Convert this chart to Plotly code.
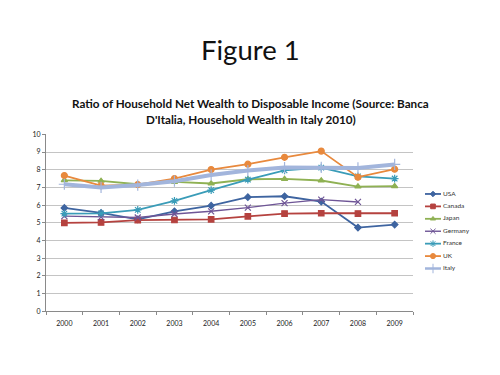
import plotly.graph_objects as go

years = [2000, 2001, 2002, 2003, 2004, 2005, 2006, 2007, 2008, 2009]
usa = [5.84, 5.56, 5.2, 5.65, 5.97, 6.45, 6.5, 6.2, 4.73, 4.9]
canada = [5.0, 5.02, 5.15, 5.16, 5.2, 5.37, 5.52, 5.54, 5.52, 5.54]
japan = [7.4, 7.37, 7.18, 7.31, 7.22, 7.46, 7.48, 7.39, 7.05, 7.07]
germany = [5.38, 5.32, 5.3, 5.5, 5.65, 5.86, 6.11, 6.31, 6.18, None]
france = [5.52, 5.53, 5.73, 6.24, 6.85, 7.44, 7.96, 8.12, 7.62, 7.5]
uk = [7.67, 7.1, 7.16, 7.5, 8.01, 8.31, 8.7, 9.05, 7.58, 8.03]
italy = [7.18, 7.0, 7.13, 7.35, 7.7, 7.95, 8.12, 8.13, 8.1, 8.3]
ytick_vals = [0, 1, 2, 3, 4, 5, 6, 7, 8, 9, 10]
names = ["USA", "Canada", "Japan", "Germany", "France", "UK", "Italy"]
title_lines = ["Ratio of Household Net Wealth to Disposable Income (Source: Banca",
               "D'Italia, Household Wealth in Italy 2010)"]

styles = {
    "USA": ("#3E64A0", "diamond", 1.8, 5),
    "Canada": ("#B5423F", "square", 1.8, 5.5),
    "Japan": ("#8FB153", "triangle-up", 1.8, 5.5),
    "Germany": ("#6E5596", "x-thin", 1.4, 6),
    "France": ("#3A9CB8", "asterisk", 1.8, 6.5),
    "UK": ("#E8893D", "circle", 1.8, 6),
    "Italy": ("#A2B5DC", "cross-thin", 4, 8),
}
values = dict(zip(names, [usa, canada, japan, germany, france, uk, italy]))

OFF = 8  # default page body margin
W, H = 500 - OFF, 375 - OFF
# plot area in page pixels
PL, PR, PT, PB = 46, 413, 132, 313


def fx(px):
    return px - OFF


def fy(py):
    return py - OFF


fig = go.Figure()
for name in names:
    color, sym, w, ms = styles[name]
    fig.add_trace(go.Scatter(
        x=years, y=values[name], name=name, mode="lines+markers",
        line=dict(color=color, width=w),
        marker=dict(symbol=sym, size=ms, color=color,
                    line=dict(color=color, width=1.2)),
        connectgaps=False, showlegend=False,
    ))

# compact legend drawn on a hidden overlay axis measured in pixels
LEG_X0, LEG_X1, LEG_TXT, LEG_Y0, LEG_DY = 425, 441, 443, 193, 12.7
for i, name in enumerate(names):
    color, sym, w, ms = styles[name]
    yy = fy(LEG_Y0 + i * LEG_DY)
    fig.add_trace(go.Scatter(
        x=[fx(LEG_X0), fx(LEG_X1)], y=[yy, yy],
        mode="lines", line=dict(color=color, width=min(w, 2.5)),
        xaxis="x2", yaxis="y2", showlegend=False, hoverinfo="skip",
    ))
    fig.add_trace(go.Scatter(
        x=[fx((LEG_X0 + LEG_X1) / 2)], y=[yy], mode="markers",
        marker=dict(symbol=sym, size=ms * 0.85, color=color, line=dict(color=color, width=1)),
        xaxis="x2", yaxis="y2", showlegend=False, hoverinfo="skip",
    ))
    fig.add_trace(go.Scatter(
        x=[fx(LEG_TXT)], y=[yy], mode="text", text=[name], textposition="middle right",
        textfont=dict(size=6.5, color="#333"),
        xaxis="x2", yaxis="y2", showlegend=False, hoverinfo="skip",
    ))

annotations = [
    dict(text="Figure 1", x=fx(250) / W, y=1 - fy(45.5) / H, xref="paper", yref="paper",
         xanchor="center", yanchor="middle", showarrow=False,
         font=dict(size=27.5, color="#111")),
]
for line, py in zip(title_lines, [100, 116.6]):
    annotations.append(dict(
        text="<b>" + line + "</b>", x=fx(250.5) / W, y=1 - fy(py) / H,
        xref="paper", yref="paper", xanchor="center", yanchor="middle",
        showarrow=False, font=dict(size=11.7, color="#111")))

fig.update_layout(
    width=W, height=H,
    margin=dict(l=0, r=0, t=0, b=0),
    paper_bgcolor="white", plot_bgcolor="rgba(0,0,0,0)",
    font=dict(family="Lato, Open Sans, sans-serif", color="#222"),
    showlegend=False,
    annotations=annotations,
    xaxis=dict(
        domain=[fx(PL) / W, fx(PR) / W],
        range=[1999.5, 2009.5], tickvals=years, ticktext=[str(y) for y in years],
        showgrid=False, zeroline=False, showline=True, linecolor="#8a8a8a", linewidth=1,
        ticks="", tickfont=dict(size=7, color="#222"), ticklabelstandoff=5,
        minor=dict(tickvals=[y - 0.5 for y in years] + [2009.5], ticks="outside",
                   ticklen=3, tickcolor="#8a8a8a", showgrid=False),
    ),
    yaxis=dict(
        domain=[1 - fy(PB) / H, 1 - fy(PT) / H],
        range=[0, 10], tickvals=ytick_vals, showgrid=True, gridcolor="#C4C4C4", gridwidth=1,
        zeroline=False, showline=True, linecolor="#8a8a8a", linewidth=1,
        ticks="outside", ticklen=3, tickcolor="#8a8a8a", tickfont=dict(size=7, color="#222"),
    ),
    xaxis2=dict(domain=[0, 1], range=[0, W], visible=False, fixedrange=True, anchor="y2"),
    yaxis2=dict(domain=[0, 1], range=[H, 0], visible=False, fixedrange=True, anchor="x2"),
)

fig.write_html("out.html")
